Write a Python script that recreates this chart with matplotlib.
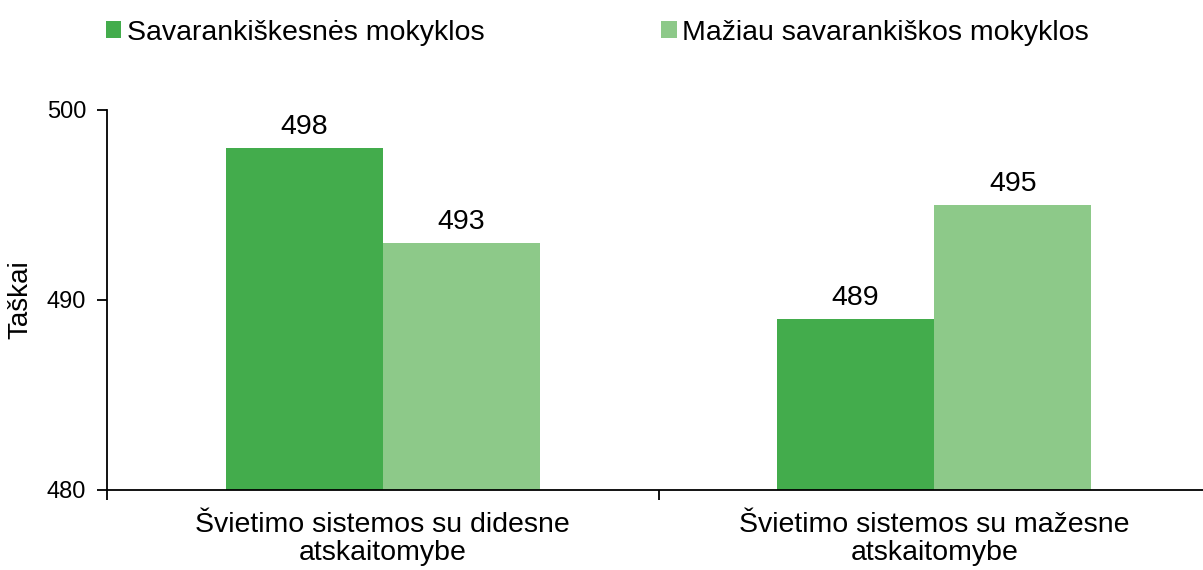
import numpy as np
import matplotlib.pyplot as plt
from matplotlib.ticker import FixedLocator

plt.rcParams['font.family'] = ['Liberation Sans', 'DejaVu Sans']

categories = ['Švietimo sistemos su didesne\natskaitomybe',
              'Švietimo sistemos su mažesne\natskaitomybe']
series_names = ['Savarankiškesnės mokyklos', 'Mažiau savarankiškos mokyklos']
savarankiskesnes = [498, 489]
maziau = [493, 495]
colors = ['#43ac4c', '#8dc989']

fig = plt.figure(figsize=(12.03, 5.70), dpi=100)
ax = fig.add_axes([107 / 1203, 1 - 490 / 570, 1103 / 1203, 380 / 570])

x = np.arange(len(categories))
w = 0.285
b1 = ax.bar(x - w / 2, savarankiskesnes, w, color=colors[0], label=series_names[0])
b2 = ax.bar(x + w / 2, maziau, w, color=colors[1], label=series_names[1])

for bars, vals in [(b1, savarankiskesnes), (b2, maziau)]:
    for r, v in zip(bars, vals):
        ax.annotate(str(v), (r.get_x() + r.get_width() / 2, v), xytext=(0, 6),
                    textcoords='offset points', ha='center', va='bottom', fontsize=20.5)

ax.set_ylim(480, 500)
ax.set_yticks([480, 490, 500])
ax.set_xlim(-0.5, 1.5)
ax.xaxis.set_major_locator(FixedLocator([-0.5, 0.5, 1.5]))
ax.set_xticklabels([])
ax.xaxis.set_minor_locator(FixedLocator(x))
ax.set_xticklabels(categories, minor=True, fontsize=20.5, linespacing=1.1)
ax.tick_params(axis='x', which='minor', length=0, pad=16)
ax.tick_params(axis='x', which='major', length=7, width=1.3)
ax.tick_params(axis='y', length=7, width=1.3, labelsize=17, pad=8)
ax.set_ylabel('Taškai', fontsize=20, labelpad=10)

for s in ['top', 'right']:
    ax.spines[s].set_visible(False)
for s in ['left', 'bottom']:
    ax.spines[s].set_linewidth(1.3)

fig.legend(handles=[b1, b2], loc='upper left', bbox_to_anchor=(80 / 1203, 1.01),
           ncol=2, frameon=False, fontsize=20.5, handlelength=0.55, handleheight=0.55,
           handletextpad=0.2, columnspacing=6.2)

fig.savefig('out.png', dpi=100)
